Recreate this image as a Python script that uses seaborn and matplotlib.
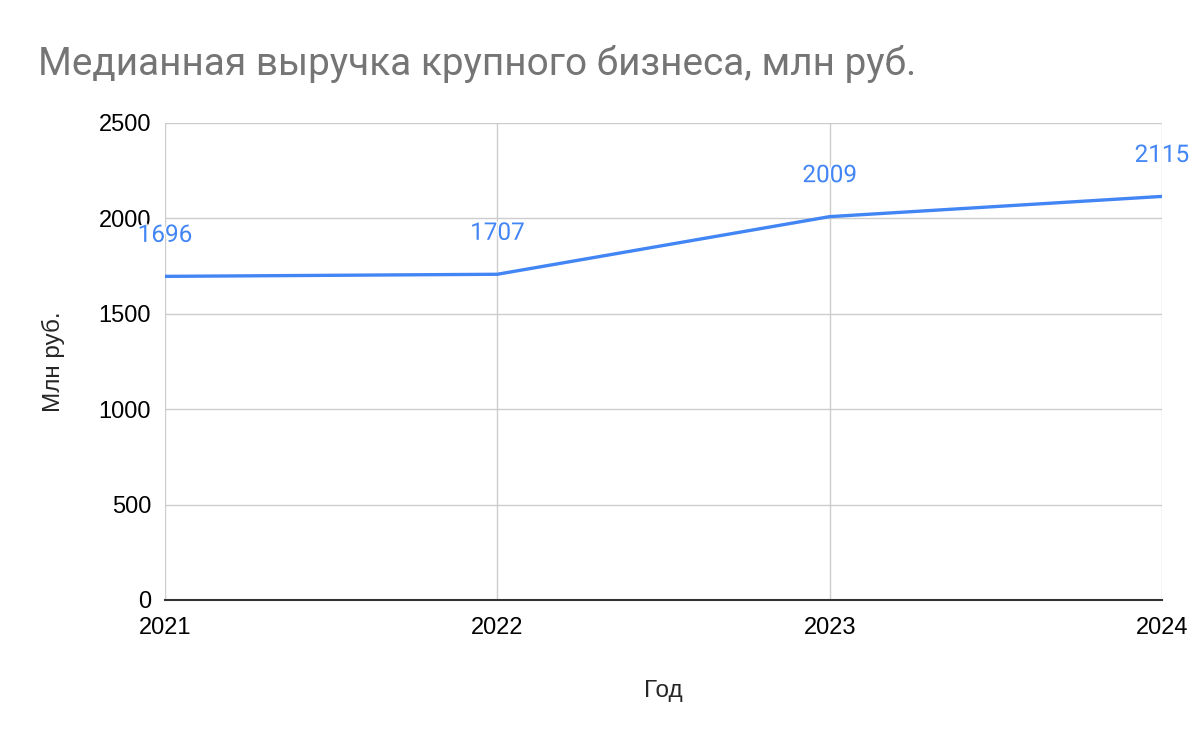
import pandas as pd
import seaborn as sns
import matplotlib.pyplot as plt
import matplotlib.patheffects as pe

# data
years = [2021, 2022, 2023, 2024]
revenue = [1696, 1707, 2009, 2115]
y_ticks = [0, 500, 1000, 1500, 2000, 2500]

df = pd.DataFrame({"Год": years, "Млн руб.": revenue})

sns.set_theme(style="white")
plt.rcParams["font.family"] = ["Liberation Sans", "DejaVu Sans"]

fig = plt.figure(figsize=(12, 7.42), dpi=100)
ax = fig.add_axes([0.1375, 0.1914, 0.8308, 0.6429])

sns.lineplot(data=df, x="Год", y="Млн руб.", color="#4285F4", linewidth=2.4, ax=ax, zorder=3)

# data labels with a thin white halo
for x, y in zip(years, revenue):
    ax.annotate(str(y), (x, y), xytext=(0, 29.5), textcoords="offset points",
                ha="center", va="center", fontsize=17.5, color="#4285F4",
                family=["Roboto", "DejaVu Sans"], zorder=4,
                path_effects=[pe.withStroke(linewidth=2, foreground="white")])

ax.set_xlim(2021, 2024)
ax.set_ylim(0, 2500)
ax.set_xticks(years)
ax.set_xticklabels([str(y) for y in years])
ax.set_yticks(y_ticks)
ax.grid(True, color="#cccccc", linewidth=1)
ax.set_axisbelow(True)
for side in ["top", "right", "left"]:
    ax.spines[side].set_visible(False)
ax.spines["bottom"].set_color("#333333")
ax.spines["bottom"].set_linewidth(1.5)
ax.tick_params(axis="both", length=0, labelsize=17, colors="#000000")
ax.tick_params(axis="x", pad=12)
ax.tick_params(axis="y", pad=10)

ax.set_xlabel("Год", fontsize=17.5, labelpad=30)
ax.set_ylabel("Млн руб.", fontsize=17.5, labelpad=24)

fig.text(0.032, 0.914, "Медианная выручка крупного бизнеса, млн руб.",
         fontsize=27.9, color="#757575", family=["Roboto", "DejaVu Sans"], va="center")

fig.savefig("out.png", dpi=100)
